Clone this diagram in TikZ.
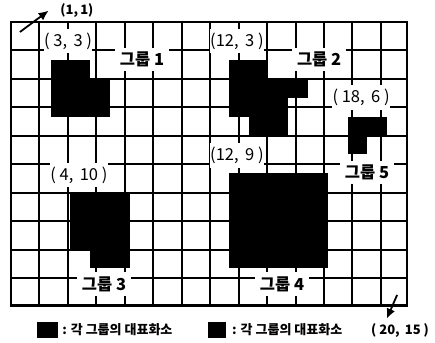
\documentclass[tikz,border=0pt]{standalone}
\usepackage{fontspec}
\setmainfont{Noto Sans CJK KR}
\usetikzlibrary{arrows.meta}
\tikzset{
  blk/.style={fill=black},
  gridline/.style={line width=2pt},
  frameline/.style={line width=2.8pt},
  coordlab/.style={fill=white, inner xsep=0.5pt, inner ysep=4pt, font=\fontsize{16.5}{16.5}\selectfont},
  grplab/.style={fill=white, inner xsep=5pt, inner ysep=4pt, font=\bfseries\fontsize{16.5}{16.5}\selectfont},
  legtext/.style={inner sep=0pt, anchor=west, font=\bfseries\fontsize{13}{13}\selectfont},
  arr/.style={line width=1.8pt, -{Latex[length=10pt,width=9pt]}}
}
\begin{document}
\begin{tikzpicture}[x=1pt,y=-1pt]
\useasboundingbox (0,0) rectangle (435,342);
\fill[white] (0,0) rectangle (435,342);
\begin{scope}[shift={(11,22)}, x=19.8pt, y=-18.9pt]
  % black pixels
  % group 1
  \fill[blk] (2,2) rectangle (4,5);
  \fill[blk] (4,3) rectangle (5,5);
  % group 2
  \fill[blk] (11,2) rectangle (13,3);
  \fill[blk] (11,3) rectangle (15,4);
  \fill[blk] (11,4) rectangle (14,5);
  \fill[blk] (12,5) rectangle (14,6);
  % group 5
  \fill[blk] (17,5) rectangle (19,6);
  \fill[blk] (17,6) rectangle (18,7);
  % group 3
  \fill[blk] (3,9) rectangle (6,12);
  \fill[blk] (4,12) rectangle (6,13);
  % group 4
  \fill[blk] (11,8) rectangle (16,13);
  % grid
  \draw[gridline] (0,0) grid (20,15);
  \draw[frameline] (0,0) rectangle (20,15);
  % coordinate labels
  \node[coordlab] (c33) at (2.88,1.0) {( 3,\, 3 )};
  \node[coordlab] (c123) at (11.41,1.0) {(12,\, 3 )};
  \node[coordlab] (c186) at (17.68,4.0) {( 18,\, 6 )};
  \node[coordlab] (c129) at (11.41,7.05) {(12,\, 9 )};
  \node[coordlab] (c410) at (3.43,8.1) {( 4,\, 10 )};
  % group labels
  \node[grplab] (g1) at (6.62,2.0) {그룹 1};
  \node[grplab] (g2) at (15.56,2.0) {그룹 2};
  \node[grplab] (g5) at (17.98,7.95) {그룹 5};
  \node[grplab] (g3) at (4.70,13.86) {그룹 3};
  \node[grplab] (g4) at (13.69,13.86) {그룹 4};
  % corner labels and arrows
  \node[inner sep=0pt, font=\bfseries\fontsize{13}{13}\selectfont] (p11) at (3.33,-0.63) {(1,\,1)};
  \coordinate (a1s) at (0.45,0.53);
  \coordinate (a1e) at (1.9,-0.6);
  \draw[arr] (a1s) -- (a1e);
  \node[inner sep=0pt, font=\bfseries\fontsize{13}{13}\selectfont] (p2015) at (19.65,16.3) {( 20,\, 15 )};
  \coordinate (a2s) at (19.5,14.44);
  \coordinate (a2e) at (18.98,15.7);
  \draw[arr] (a2s) -- (a2e);
  % legend
  \fill[blk] (1.31,15.87) rectangle (2.37,16.72);
  \node[legtext] (leg1) at (2.58,16.3) {: 각 그룹의 대표화소};
  \fill[blk] (9.95,15.87) rectangle (10.86,16.72);
  \node[legtext] (leg2) at (11.16,16.3) {: 각 그룹의 대표화소};
\end{scope}
\end{tikzpicture}
\end{document}
